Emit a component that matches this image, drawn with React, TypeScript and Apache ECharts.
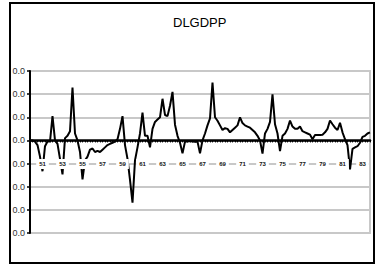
import React, { useEffect, useRef } from "react";
import * as echarts from "echarts";

const titleText = "DLGDPP";

const categories: string[] = Array.from({ length: 137 }, (_, i) => `${1950 + Math.floor(i / 4)}Q${(i % 4) + 1}`);

const dlgdpp: number[] = [
  0, 0, -0.5, -2, -7, -13.3, -2.5, -0.5, -0.5, 10.5,
  0, -1.5, -8, -14.7, 1, 2, 4, 22.8, 3, 0,
  -5, -16.8, -8.6, -7, -4, -3.5, -5, -4.5, -5, -4,
  -3, -2, -1.5, -1, -0.5, 0.5, 5, 10.5, -2, -8,
  -17, -26.9, -8.6, -3, 3, 12, 2, 2, -3, 5,
  8, 9, 10, 18, 11, 10.5, 15, 21, 6.8, 2,
  -1, -5.6, -0.5, -0.5, -0.3, -0.5, -0.6, -0.5, -5.6, 0,
  3, 6.5, 9.5, 25, 10, 8.5, 6.5, 4.5, 5.3, 5,
  3.5, 4.5, 5.5, 6.5, 10, 7.5, 6.5, 6, 5.5, 4.5,
  3.5, 2, 0, -5.7, 3, 5, 8, 19.9, 7, 3,
  -4.6, 2, 3, 5, 8.6, 6, 5, 5, 6, 4,
  3.5, 3, 2.5, 0.5, 2.3, 2.3, 2.3, 2.5, 3.5, 5,
  8.6, 7, 5.5, 4.5, 7.6, 3.5, 0.5, -2, -12.5, -3.6,
  -3, -2.5, -1, 1.5, 2, 3, 3.5,
];

const yTickLabel = "0.0";

export default function App() {
  const ref = useRef<HTMLDivElement>(null);
  useEffect(() => {
    if (!ref.current) return;
    const chart = echarts.init(ref.current, undefined, { renderer: "svg" });
    chart.setOption({
      animation: false,
      backgroundColor: "#fff",
      title: {
        text: titleText,
        left: 168,
        top: 11,
        textStyle: {
          fontFamily: "Liberation Sans",
          fontSize: 13,
          fontWeight: "normal",
          color: "#000",
        },
      },
      graphic: [
        {
          type: "rect",
          z: -10,
          shape: { x: 10, y: 3, width: 364, height: 260 },
          style: { fill: "transparent", stroke: "#000", lineWidth: 2 },
        },
      ],
      grid: {
        left: 30,
        right: 12,
        top: 71,
        bottom: 32,
        show: true,
        borderColor: "#c8c8c8",
        borderWidth: 2,
      },
      xAxis: {
        type: "category",
        data: categories,
        boundaryGap: false,
        z: 5,
        axisLine: { onZero: true, lineStyle: { color: "#000", width: 2.5 } },
        axisTick: { show: true, interval: 0, length: 2, lineStyle: { color: "#000", width: 1 } },
        axisLabel: {
          interval: (index: number) => index % 8 === 5,
          formatter: (v: string) => v.slice(2, 4),
          margin: -74,
          fontSize: 6,
          fontWeight: "bold",
          fontFamily: "Liberation Sans",
          color: "#111",
          backgroundColor: "#fff",
          padding: [2, 3],
        },
        splitLine: { show: false },
      },
      yAxis: {
        type: "value",
        min: -40,
        max: 30,
        interval: 10,
        axisLine: { show: true, lineStyle: { color: "#000", width: 2 } },
        axisTick: { show: true, length: 3, lineStyle: { color: "#000", width: 1.5 } },
        axisLabel: {
          formatter: () => yTickLabel,
          margin: 5,
          fontSize: 9,
          fontFamily: "Liberation Sans",
          color: "#333",
        },
        splitLine: { show: true, lineStyle: { color: "#c8c8c8", width: 2 } },
      },
      series: [
        {
          type: "line",
          data: dlgdpp,
          showSymbol: false,
          symbol: "none",
          lineStyle: { color: "#000", width: 2 },
          z: 2,
        },
      ],
    });
    return () => chart.dispose();
  }, []);
  return (
    <div
      ref={ref}
      style={{ position: "fixed", left: 0, top: 0, width: 382, height: 265 }}
    />
  );
}
